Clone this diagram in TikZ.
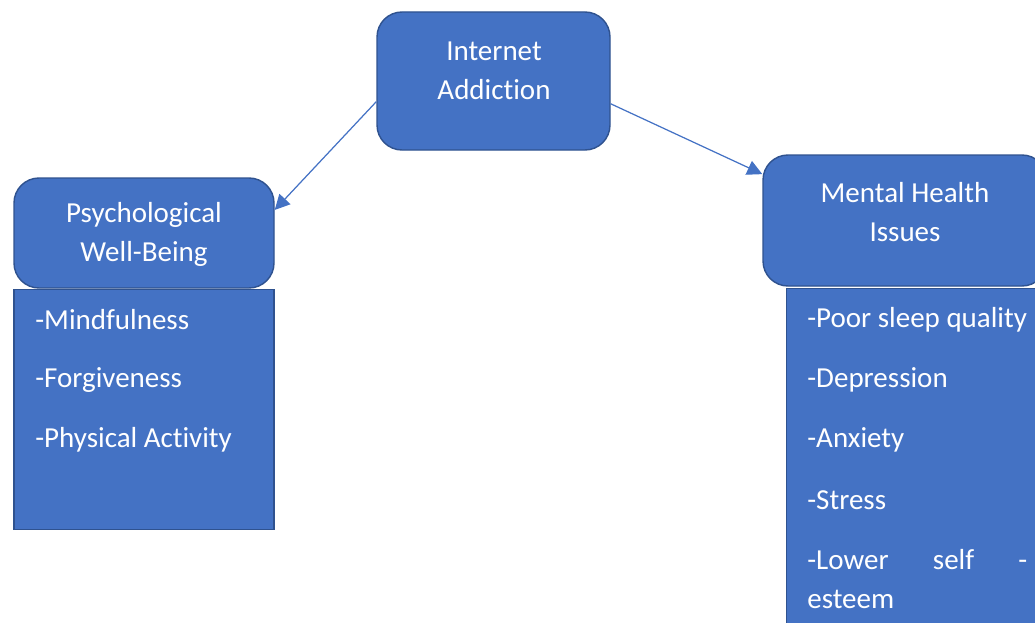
\documentclass[tikz,border=0pt]{standalone}
\usepackage{fontspec}
\setmainfont{Carlito}[RawFeature={-liga;-clig;-calt;-dlig}]
\usepackage{xcolor}
\usetikzlibrary{arrows.meta, positioning, calc}

\definecolor{boxblue}{HTML}{4472C4}
\definecolor{edgeblue}{HTML}{2F528F}

\begin{document}
\begin{tikzpicture}[
    headbox/.style={rectangle, rounded corners=0.5cm, draw=edgeblue, fill=boxblue, line width=0.8pt},
    listbox/.style={rectangle, draw=edgeblue, fill=boxblue, line width=0.8pt},
    headtext/.style={text=white, align=center, font=\fontsize{16.5}{22.2}\selectfont},
    item/.style={text=white, anchor=west, inner sep=0pt, font=\fontsize{16.5}{22.2}\selectfont},
    arrow/.style={-{Triangle[length=0.3cm, width=0.3cm]}, draw=boxblue, line width=0.7pt}
]
\useasboundingbox (0,0) rectangle (20.7,-12.44);
\clip (0,0) rectangle (20.7,-12.44);

% Boxes
\node[headbox, minimum width=4.66cm, minimum height=2.76cm] (addiction) at (9.87,-1.62) {};
\node[headbox, minimum width=5.2cm, minimum height=2.2cm] (wellbeing) at (2.88,-4.66) {};
\node[listbox, minimum width=5.2cm, minimum height=4.8cm, below=0pt of wellbeing] (wellbeinglist) {};
\node[headbox, minimum width=5.68cm, minimum height=2.62cm] (mental) at (18.1,-4.41) {};
\node[listbox, minimum width=5.4cm, minimum height=7.2cm, anchor=north west] (mentallist) at (15.72,-5.76) {};

% Headings
\node[headtext] (addictiontext) at (9.88,-1.41) {Internet\\Addict\kern0pt ion};
\node[headtext] (wellbeingtext) at (2.88,-4.68) {Psychological\\Well-Being};
\node[headtext] (mentaltext) at (18.1,-4.24) {Mental Health\\Issues};

% Lists
\node[item] (mindful) at (0.7,-6.4) {-Mindfulness};
\node[item] (forgive) at (0.7,-7.6) {-Forgiveness};
\node[item] (physical) at (0.7,-8.8) {-Physical Act\kern0pt ivit\kern0pt y};

\node[item] (sleep) at (16.14,-6.4) {-Poor sleep quality};
\node[item] (depression) at (16.14,-7.6) {-Depression};
\node[item] (anxiety) at (16.14,-8.8) {-Anxiety};
\node[item] (stress) at (16.14,-10.0) {-Stress};
\node[item] (lower) at (16.14,-11.2) {\makebox[4.4cm][s]{-Lower\hfill self\hfill -}};
\node[item] (esteem) at (16.14,-11.98) {esteem};

% Arrows
\draw[arrow] (addiction.190.7) -- (wellbeing.10);
\draw[arrow] (addiction.349.3) -- (mental.162.6);

\end{tikzpicture}
\end{document}
